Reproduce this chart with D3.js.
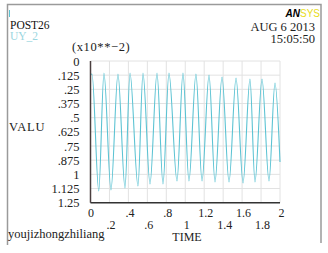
<!DOCTYPE html>
<html>
<head>
<meta charset="utf-8">
<script src="https://cdn.jsdelivr.net/npm/d3@7"></script>
<style>
  body { margin: 0; background: #fff; }
  svg { display: block; font-family: "Liberation Serif", "DejaVu Serif", serif; }
  .tick line { display: none; }
  .domain { display: none; }
</style>
</head>
<body>
<div id="chart"></div>
<script>
// time (s) at each turning point of the UY_2 curve
var times = [0, 0.016, 0.087, 0.142, 0.216, 0.290, 0.364, 0.417, 0.501, 0.554, 0.628, 0.702, 0.765, 0.828,
  0.913, 0.976, 1.039, 1.113, 1.177, 1.251, 1.314, 1.388, 1.462, 1.536, 1.610, 1.683, 1.736, 1.810,
  1.884, 1.947, 2.0];
// value (x10**-2) at each turning point
var values = [0.12, 0.115, 1.147, 0.106, 1.138, 0.115, 1.12, 0.106, 1.103, 0.106, 1.085, 0.106, 1.085, 0.106,
  1.059, 0.106, 1.059, 0.115, 1.059, 0.124, 1.067, 0.141, 1.067, 0.150, 1.076, 0.159, 1.067, 0.159,
  1.059, 0.194, 0.891];

var yTicks = [0, 0.125, 0.25, 0.375, 0.5, 0.625, 0.75, 0.875, 1, 1.125, 1.25];
var yTickLabels = ["0", ".125", ".25", ".375", ".5", ".625", ".75", ".875", "1", "1.125", "1.25"];
var xTicks = [0, 0.2, 0.4, 0.6, 0.8, 1, 1.2, 1.4, 1.6, 1.8, 2];
var xTickLabels = ["0", ".2", ".4", ".6", ".8", "1", "1.2", "1.4", "1.6", "1.8", "2"];

var width = 328, height = 253;
var lineColor = "#5cc3d3";

var svg = d3.select("#chart")
  .append("svg")
  .attr("width", width)
  .attr("height", height);

// frame around the plot window
svg.append("path")
  .attr("d", "M7.5,245 V4.5 H321 V243")
  .attr("fill", "none")
  .attr("stroke", "#9a9a9a")
  .attr("stroke-width", 1.5);
svg.append("line")
  .attr("x1", 9.5).attr("x2", 9.5).attr("y1", 10).attr("y2", 17)
  .attr("stroke", lineColor).attr("stroke-width", 1);

var xScale = d3.scaleLinear().domain([0, 2]).range([90.5, 280]);
var yScale = d3.scaleLinear().domain([0, 1.25]).range([61, 202.7]);

// grid
svg.append("g").selectAll("line.h")
  .data(yTicks)
  .enter().append("line")
  .attr("x1", xScale(0)).attr("x2", xScale(2))
  .attr("y1", function(d) { return yScale(d); })
  .attr("y2", function(d) { return yScale(d); })
  .attr("stroke", "#e2e2e2").attr("stroke-width", 1);
svg.append("g").selectAll("line.v")
  .data(xTicks.slice(1))
  .enter().append("line")
  .attr("x1", function(d) { return xScale(d); })
  .attr("x2", function(d) { return xScale(d); })
  .attr("y1", yScale(0)).attr("y2", yScale(1.25))
  .attr("stroke", "#e2e2e2").attr("stroke-width", 1);

// the curve
var pts = times.map(function(t, i) { return [t, values[i]]; });
svg.append("path")
  .datum(pts)
  .attr("fill", "none")
  .attr("stroke", lineColor)
  .attr("stroke-width", 1.1)
  .attr("d", d3.line()
    .x(function(d) { return xScale(d[0]); })
    .y(function(d) { return yScale(d[1]); })
    .curve(d3.curveMonotoneX));

// axis lines
svg.append("line")
  .attr("x1", xScale(0)).attr("x2", xScale(0))
  .attr("y1", yScale(0)).attr("y2", yScale(1.25))
  .attr("stroke", "#4a3f3f").attr("stroke-width", 1.5);
svg.append("line")
  .attr("x1", xScale(0)).attr("x2", xScale(2))
  .attr("y1", yScale(1.25)).attr("y2", yScale(1.25))
  .attr("stroke", "#333").attr("stroke-width", 1.5);

// y axis labels
svg.append("g")
  .attr("transform", "translate(" + (xScale(0) - 11) + ",0)")
  .call(d3.axisLeft(yScale).tickValues(yTicks).tickSize(0).tickPadding(0)
    .tickFormat(function(d, i) { return yTickLabels[i]; }))
  .selectAll("text")
  .attr("font-family", "Liberation Serif")
  .attr("font-size", 12.5)
  .attr("fill", "#222");

// x axis labels, staggered in two rows
svg.append("g").selectAll("text")
  .data(xTicks)
  .enter().append("text")
  .attr("x", function(d) { return xScale(d) + (d > 0 ? 1.5 : 0.5); })
  .attr("y", function(d, i) { return i % 2 === 0 ? 217 : 229; })
  .attr("text-anchor", "middle")
  .attr("font-size", 12)
  .attr("fill", "#222")
  .text(function(d, i) { return xTickLabels[i]; });

// titles and annotations
svg.append("text").attr("x", 10).attr("y", 28.5).attr("font-size", 11.5).attr("fill", "#111").text("POST26");
svg.append("text").attr("x", 10).attr("y", 40).attr("font-size", 11.5).attr("fill", "#9ad6e0").text("UY_2");
svg.append("text").attr("x", 72).attr("y", 51).attr("font-size", 12.5).attr("fill", "#222")
  .attr("letter-spacing", 0.6).text("(x10**\u22122)");
svg.append("text").attr("x", 9).attr("y", 131).attr("font-size", 12.5).attr("fill", "#222")
  .attr("letter-spacing", 0.8).text("VALU");
svg.append("text").attr("x", 187).attr("y", 241).attr("text-anchor", "middle").attr("font-size", 12)
  .attr("fill", "#222").text("TIME");
svg.append("text").attr("x", 8).attr("y", 237.5).attr("font-size", 12.5).attr("fill", "#222")
  .text("youjizhongzhiliang");
svg.append("text").attr("x", 315).attr("y", 31).attr("text-anchor", "end").attr("font-size", 12.5)
  .attr("fill", "#222").text("AUG 6 2013");
svg.append("text").attr("x", 315).attr("y", 43).attr("text-anchor", "end").attr("font-size", 12.5)
  .attr("fill", "#222").text("15:05:50");

// ANSYS logo
var logo = svg.append("text").attr("x", 320).attr("y", 17).attr("text-anchor", "end")
  .attr("font-family", "Liberation Sans").attr("font-size", 10);
logo.append("tspan").attr("font-weight", "bold").attr("font-style", "italic").attr("fill", "#000").text("AN");
logo.append("tspan").attr("fill", "#e8dc20").text("SYS");
</script>
</body>
</html>
